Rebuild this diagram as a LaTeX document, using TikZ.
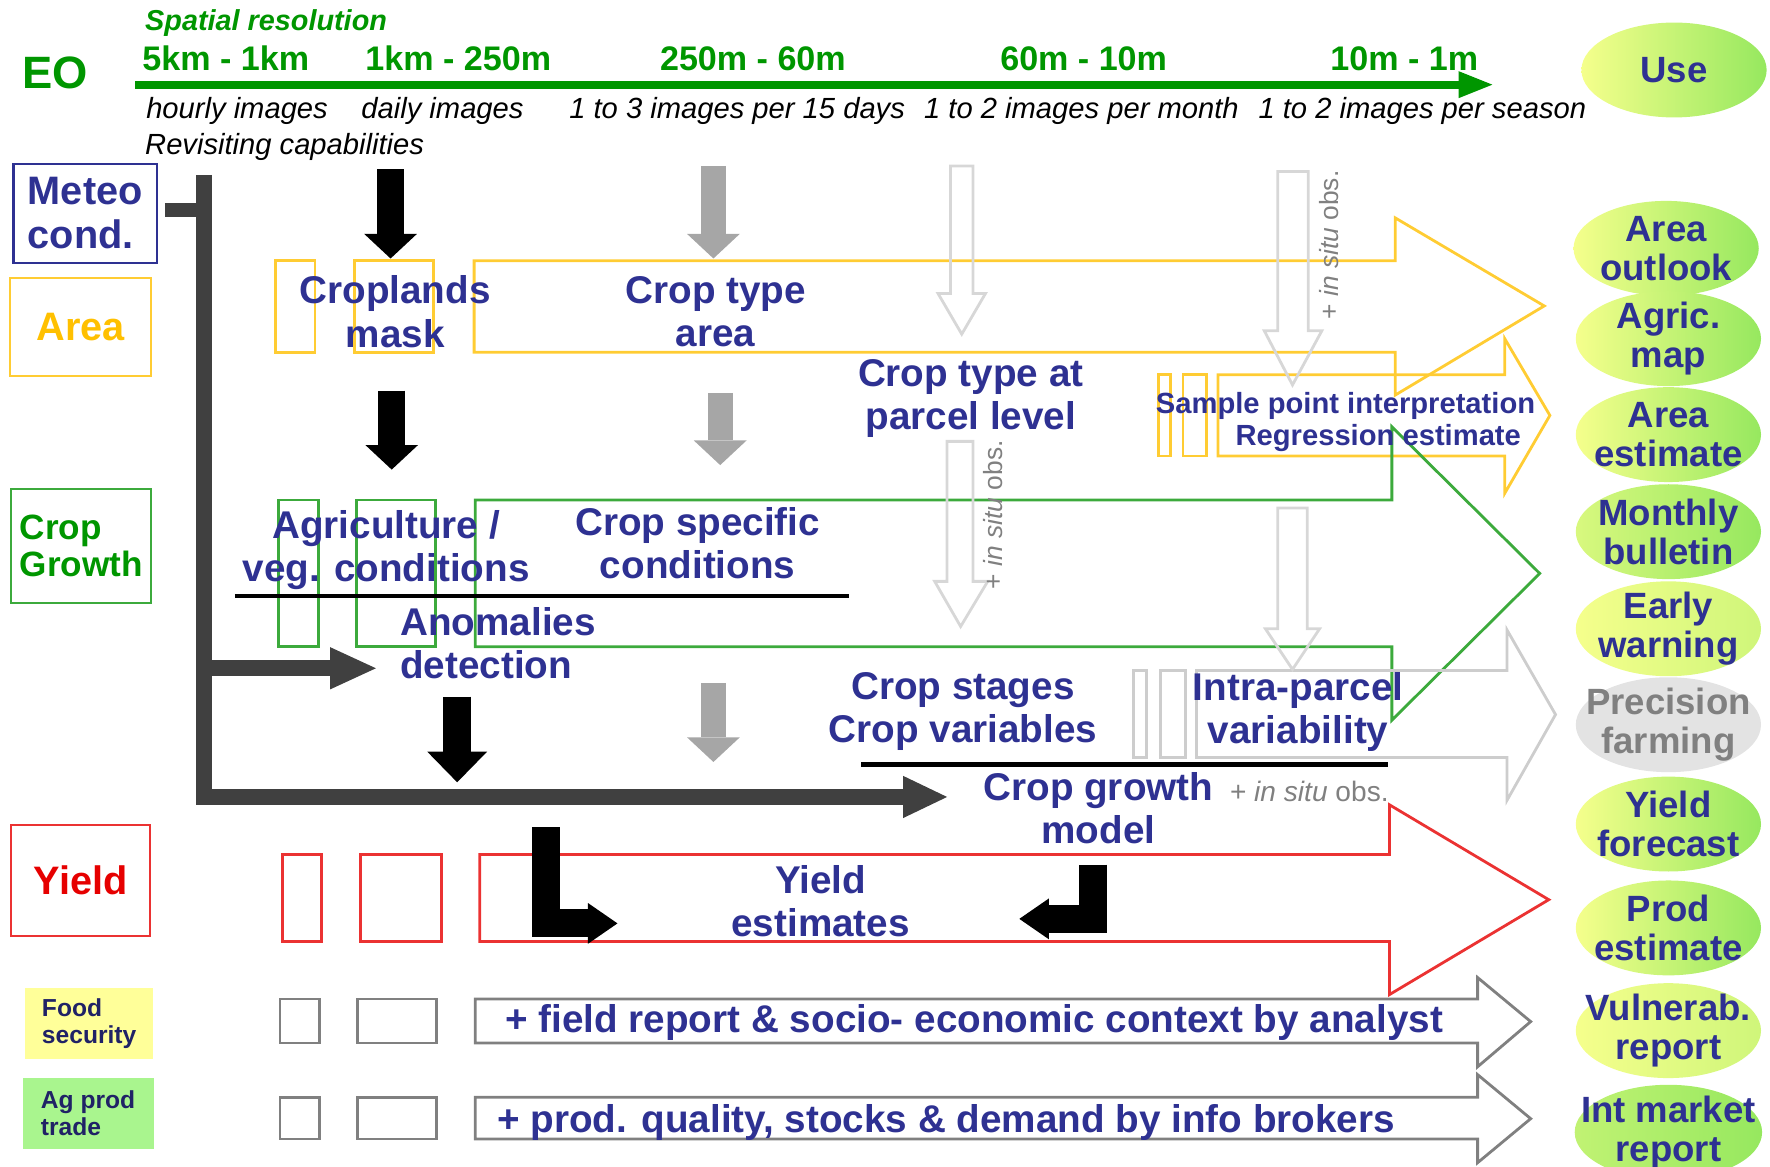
\documentclass[tikz,border=0pt]{standalone}
\usepackage{fontspec}
\setmainfont{Liberation Sans}
\usetikzlibrary{arrows.meta, shapes.geometric}

\definecolor{navy}{RGB}{46,49,146}
\definecolor{eogreen}{RGB}{0,150,0}
\definecolor{arealine}{RGB}{255,204,51}
\definecolor{areatext}{RGB}{255,192,0}
\definecolor{growline}{RGB}{60,170,60}
\definecolor{yieldline}{RGB}{235,50,50}
\definecolor{yieldtext}{RGB}{230,0,0}
\definecolor{precline}{RGB}{205,205,205}
\definecolor{insituline}{RGB}{215,215,215}
\definecolor{meteogray}{RGB}{64,64,64}
\definecolor{arrowgray}{RGB}{166,166,166}
\definecolor{outgray}{RGB}{128,128,128}
\definecolor{ylw}{RGB}{245,255,140}
\definecolor{grn}{RGB}{150,232,95}
\definecolor{foodfill}{RGB}{255,255,153}
\definecolor{agfill}{RGB}{169,245,142}

\begin{document}
\begin{tikzpicture}[x=0.3212pt, y=-0.3212pt,
txt/.style={text=navy, font=\bfseries\fontsize{11}{12.3}\selectfont, align=center, inner sep=0pt},
smalltxt/.style={text=navy, font=\bfseries\fontsize{8.3}{10}\selectfont, inner sep=0pt},
res/.style={text=eogreen, font=\bfseries\fontsize{9.7}{11}\selectfont, inner sep=0pt},
revisit/.style={font=\itshape\fontsize{8.3}{10}\selectfont, inner sep=0pt},
catbox/.style={draw, line width=0.6pt, align=left, font=\bfseries\fontsize{11.3}{12.5}\selectfont, inner sep=0pt},
usenode/.style={ellipse, minimum width=52.7pt, minimum height=27pt, inner xsep=-6pt, inner ysep=-1pt,
  text=navy, align=center, font=\bfseries\fontsize{10.4}{11.2}\selectfont, left color=ylw, right color=grn},
usey/.style={usenode, right color=ylw!60!grn},
useg/.style={usenode, left color=ylw!70!grn},
usegg/.style={usenode, left color=ylw!45!grn},
useoff/.style={ellipse, minimum width=52.7pt, minimum height=27pt, inner xsep=-6pt, inner ysep=-1pt,
  text=outgray, align=center, font=\bfseries\fontsize{10.4}{11.2}\selectfont, fill=gray!22},
band/.style={line width=0.8pt},
openarrow/.style={insituline, line width=0.8pt},
fatdown/.style={line width=7.7pt, -{Triangle[width=15pt,length=7pt,line width=0pt]}},
feed/.style={meteogray, line width=4.5pt},
insitu/.style={text=outgray, font=\fontsize{7.5}{9}\selectfont, inner sep=0pt}]

\useasboundingbox (0,0) rectangle (1568,1033);

% resolution axis
\node[font=\bfseries\itshape\fontsize{8.2}{10}\selectfont, text=eogreen, anchor=west, inner sep=0pt] (spatial) at (128,20) {Spatial resolution};
\node[font=\bfseries\fontsize{12.9}{14}\selectfont, text=eogreen, inner sep=0pt] (eo) at (49,65) {EO};
\node[res] (r1) at (200,52) {5km - 1km};
\node[res] (r2) at (406,52) {1km - 250m};
\node[res] (r3) at (667,52) {250m - 60m};
\node[res] (r4) at (960,52) {60m - 10m};
\node[res] (r5) at (1244,52) {10m - 1m};
\draw[eogreen, line width=2.3pt, -{Triangle[width=7.7pt,length=9.6pt,line width=0pt]}] (120,75) -- (1322,75);
\node[revisit] (v1) at (210,98) {hourly images};
\node[revisit] (v2) at (392,98) {daily images};
\node[revisit] (v3) at (653,98) {1 to 3 images per 15 days};
\node[revisit] (v4) at (958,98) {1 to 2 images per month};
\node[revisit] (v5) at (1260,98) {1 to 2 images per season};
\node[revisit, anchor=west] (revcap) at (128,130) {Revisiting capabilities};

% categories
\node[catbox, draw=navy, text=navy, minimum width=40.8pt, minimum height=28.3pt] (meteo) at (75.5,189) {Meteo\\cond.};
\node[catbox, draw=arealine, text=areatext, minimum width=40.2pt, minimum height=27.9pt] (area) at (71.5,289.5) {Area};
\node[catbox, draw=growline, text=eogreen, font=\bfseries\fontsize{10}{10.6}\selectfont, minimum width=39.8pt, minimum height=32.4pt] (growth) at (72,483.5) {Crop\\Growth};
\node[catbox, draw=yieldline, text=yieldtext, minimum width=39.5pt, minimum height=31.5pt] (yield) at (71.5,780) {Yield};
\node[catbox, draw=none, fill=foodfill, text=navy!70!black, font=\bfseries\fontsize{7}{7.7}\selectfont, minimum width=36.6pt, minimum height=20.2pt] (food) at (79,906.5) {Food\\security};
\node[catbox, draw=none, fill=agfill, text=navy!70!black, font=\bfseries\fontsize{7}{7.7}\selectfont, minimum width=37.3pt, minimum height=20.2pt] (ag) at (78,986.5) {Ag prod\\trade};

% bands
\draw[band, arealine] (244,231) rectangle (279,312) (314,231) rectangle (384,312);
\draw[band, arealine] (420,231) -- (1236,231) -- (1236,193) -- (1368,271) -- (1236,350) -- (1236,312) -- (420,312) -- cycle;
\draw[band, arealine] (1026,332) rectangle (1037,404) (1048,332) rectangle (1069,404);
\draw[band, arealine] (1079,332) -- (1333,332) -- (1333,300) -- (1373,368) -- (1333,437) -- (1333,404) -- (1079,404) -- cycle;
\draw[band, growline] (247,443) rectangle (282,573) (316,443) rectangle (386,573);
\draw[band, growline] (421,443) -- (1233,443) -- (1233,378) -- (1364,508) -- (1233,638) -- (1233,573) -- (421,573) -- cycle;
\draw[band, precline] (1004,594) rectangle (1016,671) (1028,594) rectangle (1050,671);
\draw[band, precline] (1060,594) -- (1335,594) -- (1335,558) -- (1378,633) -- (1335,709) -- (1335,671) -- (1060,671) -- cycle;
\draw[band, yieldline] (250,757) rectangle (285,834) (319,757) rectangle (391,834);
\draw[band, yieldline] (425,757) -- (1231,757) -- (1231,713) -- (1372,797) -- (1231,881) -- (1231,834) -- (425,834) -- cycle;
\draw[band, outgray] (248,885) rectangle (283,924) (317,885) rectangle (387,924);
\draw[band, outgray] (421,885) -- (1309,885) -- (1309,866) -- (1356,905) -- (1309,945) -- (1309,924) -- (421,924) -- cycle;
\draw[band, outgray] (248,972) rectangle (283,1009) (317,972) rectangle (387,1009);
\draw[band, outgray] (421,972) -- (1309,972) -- (1309,952) -- (1356,991) -- (1309,1030) -- (1309,1009) -- (421,1009) -- cycle;

% in situ arrows
\draw[openarrow] (842,147) -- (862,147) -- (862,260) -- (873,260) -- (852,296) -- (831,260) -- (842,260) -- cycle;
\draw[openarrow] (1132,152) -- (1159,152) -- (1159,293) -- (1171,293) -- (1145,341) -- (1120,293) -- (1132,293) -- cycle;
\draw[openarrow] (839,391) -- (862,391) -- (862,515) -- (875,515) -- (851,555) -- (828,515) -- (839,515) -- cycle;
\draw[openarrow] (1132,450) -- (1158,450) -- (1158,557) -- (1169,557) -- (1145,593) -- (1121,557) -- (1132,557) -- cycle;
\node[insitu, rotate=90] (obs1) at (1177,217) {+ \textit{in situ} obs.};
\node[insitu, rotate=90] (obs2) at (880,456) {+ \textit{in situ} obs.};

% meteo feed
\draw[feed, line width=4.2pt] (146,186) -- (181,186);
\draw[feed, -{Triangle[width=12pt,length=12.5pt,line width=0pt]}] (181,155) |- (839,706);
\draw[feed, -{Triangle[width=12pt,length=13pt,line width=0pt]}] (181,592) -- (333,592);

% processing arrows
\draw[fatdown] (346,150) -- (346,229);
\draw[fatdown, arrowgray, line width=7.1pt] (632,147) -- (632,229);
\draw[fatdown] (347,346) -- (347,416);
\draw[fatdown, arrowgray, line width=7.1pt] (638,348) -- (638,412);
\draw[fatdown, line width=8pt, -{Triangle[width=17pt,length=8.7pt,line width=0pt]}] (405,617) -- (405,693);
\draw[fatdown, arrowgray, line width=7.1pt] (632,605) -- (632,675);
\draw[line width=8pt, -{Triangle[width=11.6pt,length=8.4pt,line width=0pt]}] (484,733) |- (547,818);
\draw[line width=8pt, -{Triangle[width=11.6pt,length=8.4pt,line width=0pt]}] (968,766) |- (903,814);
\draw[line width=1.3pt] (208,528) -- (752,528);
\draw[line width=1.3pt] (763,677) -- (1230,677);

% products
\node[txt] (mask) at (350,276) {Croplands\\mask};
\node[txt] (ctarea) at (634,276) {Crop type\\area};
\node[txt] (parcel) at (860,353) {Crop type at\\parcel level};
\node[smalltxt] (sample) at (1192,360) {Sample point interpretation};
\node[smalltxt] (regr) at (1221,388) {Regression estimate};
\node[txt] (agri) at (342,487) {Agriculture /\\veg. conditions};
\node[txt] (cspec) at (618,481) {Crop specific\\conditions};
\node[txt, align=left, anchor=west] (anom) at (354,570) {Anomalies\\detection};
\node[txt] (stages) at (853,630) {Crop stages\\Crop variables};
\node[txt] (intra) at (1150,631) {Intra-parcel\\variability};
\node[txt] (cgm) at (973,716) {Crop growth\\model};
\node[insitu, font=\fontsize{8}{9}\selectfont, anchor=west] (obs3) at (1089,701) {+ \textit{in situ} obs.};
\node[txt] (yest) at (727,798) {Yield\\estimates};
\node[txt] (fieldrep) at (863,906) {+ field report \& socio- economic context by analyst};
\node[txt, anchor=west] (quality) at (440,994) {+ prod. quality, stocks \& demand by info brokers};

% uses
\node[usenode] (use) at (1483,62) {Use};
\node[usenode] (outlook) at (1476,220) {Area\\outlook};
\node[usenode] (agmap) at (1478,300) {Agric.\\map};
\node[usenode] (areaest) at (1478,385) {Area\\estimate};
\node[useg] (bulletin) at (1478,471) {Monthly\\bulletin};
\node[usey] (warning) at (1478,557) {Early\\warning};
\node[useoff] (precision) at (1478,642) {Precision\\farming};
\node[usenode] (yfore) at (1478,730) {Yield\\forecast};
\node[usenode] (prodest) at (1478,822) {Prod\\estimate};
\node[usey] (vulner) at (1478,913) {Vulnerab.\\report};
\node[usegg] (market) at (1478,1003) {Int market\\report};

\end{tikzpicture}
\end{document}
